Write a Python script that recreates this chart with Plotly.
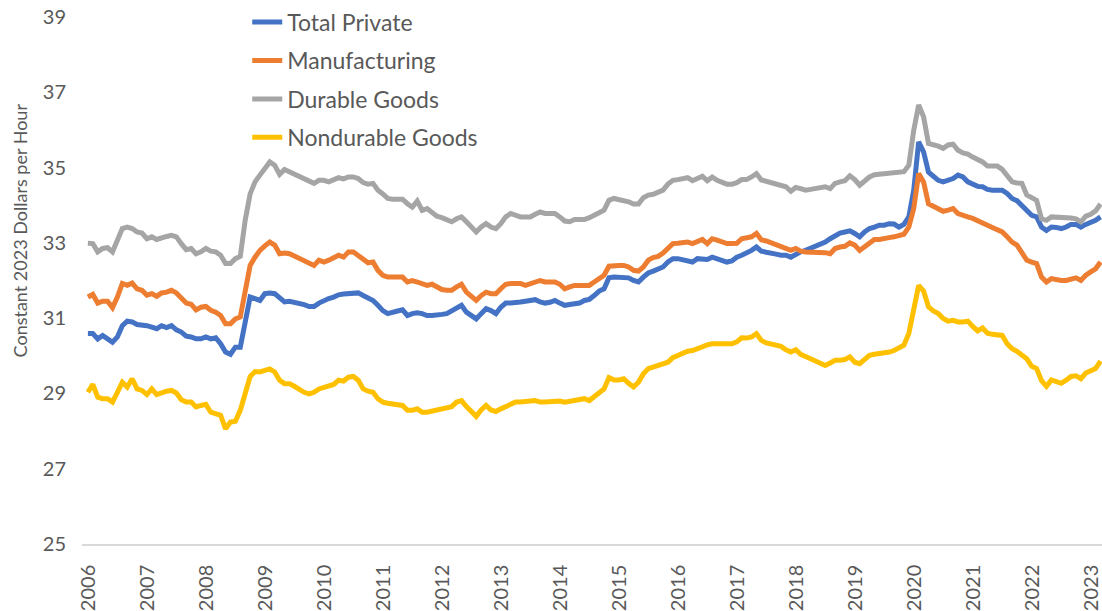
import pandas as pd
import plotly.graph_objects as go

# monthly observations, Jan 2006 .. Mar 2023
months = [d.strftime('%Y-%m') for d in pd.date_range('2006-01-01', periods=207, freq='MS')]
year_ticks = [m for m in months if m.endswith('-01')]
year_labels = [m[:4] for m in year_ticks]

total_private = [
    30.59, 30.59, 30.45, 30.54, 30.45, 30.36, 30.50, 30.80, 30.92, 30.90, 30.83, 30.83,
    30.80, 30.76, 30.72, 30.80, 30.75, 30.80, 30.69, 30.63, 30.52, 30.50, 30.45, 30.45,
    30.50, 30.45, 30.48, 30.32, 30.10, 30.04, 30.23, 30.23, 30.85, 31.56, 31.52, 31.47,
    31.65, 31.67, 31.65, 31.52, 31.43, 31.45, 31.43, 31.38, 31.36, 31.31, 31.31, 31.40,
    31.47, 31.52, 31.56, 31.62, 31.64, 31.65, 31.65, 31.67, 31.60, 31.52, 31.47, 31.34,
    31.20, 31.12, 31.14, 31.19, 31.22, 31.07, 31.12, 31.14, 31.12, 31.07, 31.07, 31.07,
    31.10, 31.12, 31.20, 31.29, 31.34, 31.16, 31.07, 30.98, 31.12, 31.25, 31.20, 31.12,
    31.29, 31.40, 31.40, 31.40, 31.43, 31.45, 31.47, 31.49, 31.43, 31.40, 31.42, 31.47,
    31.40, 31.34, 31.36, 31.38, 31.40, 31.47, 31.50, 31.60, 31.72, 31.78, 32.07, 32.09,
    32.09, 32.09, 32.07, 32.00, 31.96, 32.09, 32.20, 32.25, 32.29, 32.36, 32.49, 32.58,
    32.58, 32.55, 32.54, 32.49, 32.58, 32.57, 32.56, 32.62, 32.58, 32.54, 32.49, 32.52,
    32.62, 32.67, 32.73, 32.80, 32.89, 32.78, 32.75, 32.71, 32.70, 32.67, 32.67, 32.62,
    32.71, 32.76, 32.80, 32.85, 32.91, 32.98, 33.02, 33.11, 33.20, 33.26, 33.29, 33.32,
    33.25, 33.16, 33.29, 33.38, 33.42, 33.47, 33.47, 33.51, 33.50, 33.42, 33.49, 33.69,
    34.40, 35.68, 35.42, 34.88, 34.77, 34.66, 34.62, 34.65, 34.71, 34.80, 34.75, 34.62,
    34.56, 34.50, 34.49, 34.42, 34.40, 34.40, 34.40, 34.31, 34.18, 34.12, 34.00, 33.84,
    33.73, 33.69, 33.42, 33.33, 33.42, 33.41, 33.38, 33.42, 33.49, 33.49, 33.42, 33.49,
    33.53, 33.60, 33.69,
]

manufacturing = [
    31.56, 31.63, 31.40, 31.45, 31.45, 31.28, 31.56, 31.92, 31.87, 31.93, 31.78, 31.74,
    31.61, 31.65, 31.58, 31.67, 31.69, 31.74, 31.67, 31.52, 31.40, 31.37, 31.22, 31.29,
    31.31, 31.21, 31.16, 31.07, 30.85, 30.85, 30.98, 31.03, 31.65, 32.40, 32.62, 32.80,
    32.92, 33.02, 32.94, 32.71, 32.73, 32.71, 32.65, 32.58, 32.54, 32.45, 32.40, 32.54,
    32.49, 32.54, 32.62, 32.67, 32.62, 32.76, 32.76, 32.67, 32.54, 32.47, 32.49, 32.27,
    32.14, 32.09, 32.09, 32.09, 32.09, 31.96, 32.00, 31.96, 31.90, 31.87, 31.90, 31.83,
    31.76, 31.74, 31.74, 31.83, 31.90, 31.69, 31.56, 31.47, 31.60, 31.69, 31.65, 31.65,
    31.78, 31.90, 31.92, 31.92, 31.92, 31.87, 31.92, 31.96, 32.00, 31.96, 31.96, 31.96,
    31.90, 31.78, 31.83, 31.87, 31.87, 31.88, 31.87, 31.96, 32.05, 32.14, 32.38, 32.40,
    32.40, 32.40, 32.36, 32.27, 32.25, 32.36, 32.54, 32.61, 32.64, 32.73, 32.85, 32.98,
    32.99, 33.02, 33.02, 32.98, 33.02, 33.09, 32.98, 33.11, 33.07, 33.02, 32.98, 32.98,
    32.99, 33.11, 33.14, 33.16, 33.25, 33.08, 33.05, 33.00, 32.98, 32.91, 32.85, 32.80,
    32.85, 32.78, 32.76, 32.76, 32.74, 32.74, 32.74, 32.71, 32.85, 32.89, 32.91, 33.00,
    32.94, 32.80, 32.91, 33.02, 33.09, 33.09, 33.10, 33.14, 33.16, 33.20, 33.23, 33.42,
    33.91, 34.84, 34.62, 34.04, 33.97, 33.88, 33.84, 33.87, 33.91, 33.78, 33.75, 33.69,
    33.65, 33.60, 33.53, 33.47, 33.41, 33.35, 33.29, 33.16, 33.02, 32.94, 32.71, 32.54,
    32.49, 32.45, 32.09, 31.96, 32.05, 32.02, 32.00, 32.00, 32.05, 32.07, 32.00, 32.14,
    32.23, 32.31, 32.49,
]

durable_goods = [
    32.99, 32.98, 32.76, 32.85, 32.87, 32.76, 33.07, 33.38, 33.42, 33.38, 33.29, 33.26,
    33.11, 33.16, 33.09, 33.14, 33.17, 33.20, 33.16, 32.98, 32.82, 32.85, 32.71, 32.76,
    32.85, 32.78, 32.76, 32.67, 32.45, 32.45, 32.58, 32.64, 33.60, 34.30, 34.62, 34.80,
    34.97, 35.15, 35.06, 34.82, 34.95, 34.89, 34.82, 34.75, 34.69, 34.64, 34.58, 34.66,
    34.66, 34.62, 34.68, 34.73, 34.70, 34.75, 34.75, 34.71, 34.60, 34.56, 34.58, 34.40,
    34.30, 34.18, 34.16, 34.16, 34.16, 34.04, 33.95, 34.11, 33.86, 33.91, 33.80, 33.71,
    33.67, 33.62, 33.56, 33.64, 33.69, 33.56, 33.42, 33.29, 33.42, 33.51, 33.42, 33.38,
    33.51, 33.69, 33.78, 33.73, 33.69, 33.69, 33.69, 33.76, 33.82, 33.78, 33.78, 33.78,
    33.69, 33.58, 33.56, 33.62, 33.62, 33.62, 33.67, 33.72, 33.80, 33.87, 34.13, 34.18,
    34.15, 34.13, 34.09, 34.03, 34.03, 34.20, 34.27, 34.29, 34.33, 34.40, 34.56, 34.66,
    34.68, 34.70, 34.73, 34.65, 34.71, 34.77, 34.65, 34.75, 34.66, 34.62, 34.56, 34.56,
    34.60, 34.68, 34.68, 34.75, 34.84, 34.67, 34.63, 34.59, 34.56, 34.51, 34.49, 34.37,
    34.47, 34.44, 34.40, 34.42, 34.44, 34.47, 34.49, 34.44, 34.58, 34.62, 34.65, 34.78,
    34.68, 34.53, 34.66, 34.75, 34.81, 34.82, 34.84, 34.84, 34.86, 34.89, 34.89, 35.06,
    35.99, 36.66, 36.35, 35.64, 35.61, 35.57, 35.51, 35.60, 35.62, 35.46, 35.39, 35.36,
    35.28, 35.21, 35.15, 35.04, 35.05, 35.04, 34.95, 34.80, 34.62, 34.59, 34.58, 34.27,
    34.18, 34.13, 33.64, 33.60, 33.69, 33.69, 33.69, 33.68, 33.66, 33.64, 33.56, 33.71,
    33.76, 33.85, 34.03,
]

nondurable_goods = [
    29.03, 29.24, 28.90, 28.86, 28.86, 28.77, 29.03, 29.30, 29.17, 29.39, 29.12, 29.08,
    28.97, 29.12, 28.97, 29.03, 29.06, 29.08, 29.01, 28.83, 28.77, 28.77, 28.64, 28.68,
    28.71, 28.50, 28.46, 28.42, 28.06, 28.24, 28.26, 28.55, 29.00, 29.45, 29.58, 29.57,
    29.61, 29.65, 29.57, 29.35, 29.26, 29.26, 29.19, 29.10, 29.03, 28.99, 29.03, 29.12,
    29.17, 29.19, 29.24, 29.35, 29.33, 29.43, 29.45, 29.35, 29.12, 29.06, 29.03, 28.86,
    28.77, 28.74, 28.72, 28.71, 28.68, 28.55, 28.55, 28.59, 28.50, 28.50, 28.53, 28.56,
    28.59, 28.59, 28.65, 28.77, 28.81, 28.65, 28.50, 28.39, 28.56, 28.68, 28.56, 28.52,
    28.59, 28.65, 28.71, 28.77, 28.77, 28.77, 28.80, 28.81, 28.77, 28.77, 28.78, 28.81,
    28.80, 28.77, 28.80, 28.81, 28.83, 28.86, 28.81, 28.92, 29.03, 29.12, 29.42, 29.36,
    29.36, 29.39, 29.27, 29.17, 29.30, 29.52, 29.66, 29.70, 29.73, 29.77, 29.83, 29.95,
    30.01, 30.07, 30.12, 30.14, 30.20, 30.23, 30.29, 30.32, 30.32, 30.35, 30.34, 30.32,
    30.37, 30.48, 30.47, 30.50, 30.59, 30.41, 30.34, 30.32, 30.30, 30.25, 30.16, 30.10,
    30.16, 30.04, 29.98, 29.92, 29.83, 29.79, 29.74, 29.81, 29.88, 29.88, 29.90, 29.97,
    29.83, 29.79, 29.92, 30.01, 30.04, 30.05, 30.07, 30.10, 30.14, 30.21, 30.28, 30.59,
    31.30, 31.87, 31.72, 31.30, 31.19, 31.12, 30.99, 30.92, 30.94, 30.90, 30.90, 30.92,
    30.78, 30.66, 30.74, 30.60, 30.57, 30.54, 30.54, 30.32, 30.19, 30.12, 30.01, 29.92,
    29.72, 29.66, 29.34, 29.19, 29.36, 29.33, 29.27, 29.35, 29.45, 29.47, 29.39, 29.54,
    29.59, 29.66, 29.86,
]

series = [
    ('Total Private', total_private, '#4472C4'),
    ('Manufacturing', manufacturing, '#ED7D31'),
    ('Durable Goods', durable_goods, '#A5A5A5'),
    ('Nondurable Goods', nondurable_goods, '#FFC000'),
]

font_name = 'Lato'
text_color = '#595959'

fig = go.Figure()
for name, values, color in series:
    fig.add_trace(go.Scatter(
        x=months,
        y=values,
        name=name,
        legendgroup=name,
        mode='lines',
        line=dict(color=color, width=5),
    ))

fig.update_layout(
    width=1102,
    height=611,
    margin=dict(l=82, r=0, t=17, b=67, autoexpand=False),
    paper_bgcolor='white',
    plot_bgcolor='white',
    font=dict(family=font_name, color=text_color, size=20),
    showlegend=True,
    legend=dict(
        x=0.162,
        y=1.031,
        xanchor='left',
        yanchor='top',
        bgcolor='rgba(0,0,0,0)',
        font=dict(size=23, color=text_color),
        tracegroupgap=5.5,
        traceorder='grouped',
    ),
    xaxis=dict(
        type='category',
        range=[-1.2, 206.3],
        tickvals=year_ticks,
        ticktext=year_labels,
        tickangle=-90,
        showgrid=False,
        showline=True,
        linecolor='#D9D9D9',
        linewidth=1.5,
        ticks='outside',
        ticklen=11,
        tickcolor='rgba(0,0,0,0)',
        tickfont=dict(size=20, color=text_color),
        ticklabelshift=1,
        zeroline=False,
    ),
    yaxis=dict(
        range=[25, 39],
        tickvals=[25, 27, 29, 31, 33, 35, 37, 39],
        showgrid=False,
        zeroline=False,
        ticks='outside',
        ticklen=11,
        tickcolor='rgba(0,0,0,0)',
        tickfont=dict(size=20, color=text_color),
    ),
    annotations=[dict(
        text='Constant 2023 Dollars per Hour',
        xref='paper', yref='paper',
        x=-0.0608, y=0.595,
        xanchor='center', yanchor='middle',
        textangle=-90,
        showarrow=False,
        font=dict(size=18, color=text_color, family=font_name),
    )],
)

# the page's default body margin would push the figure 8px down and right
fig.write_html('out.html', config={'displayModeBar': False},
               post_script="document.body.style.margin='0';")
